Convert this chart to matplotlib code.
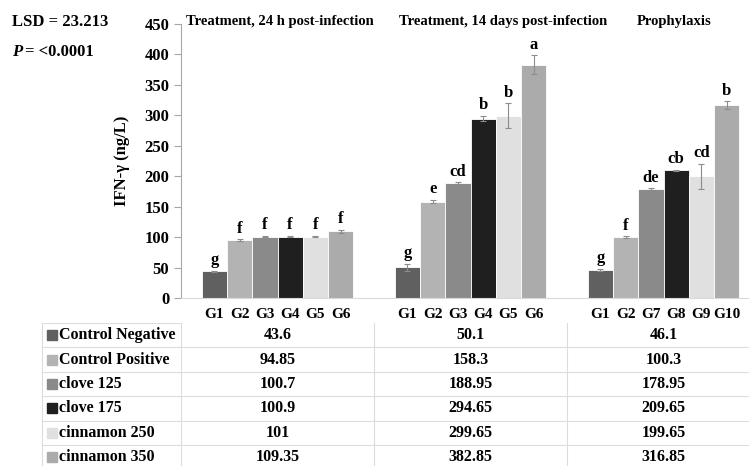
import numpy as np
from matplotlib import pyplot as plt
from matplotlib.transforms import blended_transform_factory
from matplotlib.lines import Line2D

plt.rcParams['font.family'] = ['Liberation Serif', 'DejaVu Serif']
plt.rcParams['font.weight'] = 'bold'

groups = ['Treatment, 24 h post-infection', 'Treatment, 14 days post-infection', 'Prophylaxis']
series = ['Control Negative', 'Control Positive', 'clove 125', 'clove 175',
          'cinnamon 250', 'cinnamon 350']
colors = ['#606060', '#b3b3b3', '#8a8a8a', '#1f1f1f', '#e0e0e0', '#ababab']
bar_labels = [['G1', 'G2', 'G3', 'G4', 'G5', 'G6'],
              ['G1', 'G2', 'G3', 'G4', 'G5', 'G6'],
              ['G1', 'G2', 'G7', 'G8', 'G9', 'G10']]

# values per series, one entry per group
control_negative = [43.6, 50.1, 46.1]
control_positive = [94.85, 158.3, 100.3]
clove_125 = [100.7, 188.95, 178.95]
clove_175 = [100.9, 294.65, 209.65]
cinnamon_250 = [101, 299.65, 199.65]
cinnamon_350 = [109.35, 382.85, 316.85]
values = [control_negative, control_positive, clove_125, clove_175,
          cinnamon_250, cinnamon_350]

errors = [[1.0, 6.5, 2.0],
          [1.5, 3.0, 1.0],
          [1.0, 1.0, 1.0],
          [1.0, 4.0, 1.0],
          [1.0, 20.0, 20.0],
          [3.0, 15.5, 6.0]]

letters = [['g', 'g', 'g'],
           ['f', 'e', 'f'],
           ['f', 'cd', 'de'],
           ['f', 'b', 'cb'],
           ['f', 'b', 'cd'],
           ['f', 'a', 'b']]

W, H = 749, 466
fig = plt.figure(figsize=(W / 100, H / 100), dpi=100)
ax_left, ax_right, ax_top, ax_bottom = 181, 760, 24, 298
ax = fig.add_axes([ax_left / W, 1 - ax_bottom / H, (ax_right - ax_left) / W,
                   (ax_bottom - ax_top) / H])

bw = 0.131
for i, (name, col) in enumerate(zip(series, colors)):
    x = np.arange(3) + 0.5 + (i - 2.5) * bw
    ax.bar(x, values[i], width=bw, color=col, edgecolor='white', linewidth=0.6)
    ax.errorbar(x, values[i], yerr=errors[i], fmt='none', ecolor='#8c8c8c',
                elinewidth=0.8, capsize=2, capthick=0.8)
    for g in range(3):
        ax.annotate(letters[i][g], (x[g], values[i][g] + errors[i][g]),
                    xytext=(0, 2), textcoords='offset points', ha='center',
                    va='bottom', fontsize=12, fontweight='bold')

ax.set_xlim(0, 3)
ax.set_ylim(0, 450)
ax.set_yticks(np.arange(0, 451, 50))
ax.set_xticks([])
for s in ['top', 'right']:
    ax.spines[s].set_visible(False)
ax.spines['left'].set_color('#a6a6a6')
ax.spines['bottom'].set_color('#d9d9d9')
ax.tick_params(axis='y', colors='#a6a6a6', length=5, width=0.8, labelsize=12,
               labelcolor='black')
for t in ax.get_yticklabels():
    t.set_fontweight('bold')
ax.set_ylabel('IFN-γ (ng/L)', fontsize=12, fontweight='bold', labelpad=10)

# group titles, centred in pixels
title_px = [280, 503, 674]
for px, title in zip(title_px, groups):
    fig.text(px / W, 1 - 21 / H, title, ha='center', va='center',
             fontsize=10.5, fontweight='bold')

fig.text(12 / W, 1 - 22 / H, 'LSD = 23.213', ha='left', va='center', fontsize=12,
         fontweight='bold')
fig.text(12 / W, 1 - 52 / H, 'P', ha='left', va='center', fontsize=12,
         fontweight='bold', style='italic')
fig.text(25 / W, 1 - 52 / H, '= <0.0001', ha='left', va='center', fontsize=12,
         fontweight='bold')

# data table below the axis
tr = blended_transform_factory(ax.transData, fig.transFigure)
def fy(ypx):
    return 1 - ypx / H

x_tab = (42 - ax_left) / 193
line_col = '#dcdcdc'
for i in range(3):
    xs = np.arange(6) * bw + i + 0.5 - 2.5 * bw
    for xx, lab in zip(xs, bar_labels[i]):
        fig.text(0, 0, lab, transform=tr, ha='center', va='center', fontsize=11,
                 fontweight='bold').set_position((xx, fy(315)))

row_top = 323
row_h = 24.4
fig.add_artist(Line2D([x_tab, 0], [fy(row_top)] * 2, transform=tr, color=line_col,
                      lw=0.8))
for r in range(1, 7):
    fig.add_artist(Line2D([x_tab, 3], [fy(row_top + r * row_h)] * 2, transform=tr,
                          color=line_col, lw=0.8))
for xv in [x_tab, 0, 1, 2]:
    fig.add_artist(Line2D([xv, xv], [fy(row_top), fy(H + 5)], transform=tr,
                          color=line_col, lw=0.8))

sq = 10 / 193
for r, (name, col) in enumerate(zip(series, colors)):
    yc = row_top + (r + 0.5) * row_h
    fig.add_artist(plt.Rectangle((x_tab + 5 / 193, fy(yc + 5)), sq, 10 / H,
                                 transform=tr, color=col, clip_on=False))
    fig.text(0, 0, name, transform=tr, ha='left', va='center', fontsize=11.5,
             fontweight='bold').set_position((x_tab + 17 / 193, fy(yc)))
    for g in range(3):
        fig.text(0, 0, f'{values[r][g]:g}', transform=tr, ha='center', va='center',
                 fontsize=11.5, fontweight='bold').set_position((g + 0.5, fy(yc)))

fig.savefig('out.png', dpi=100)
